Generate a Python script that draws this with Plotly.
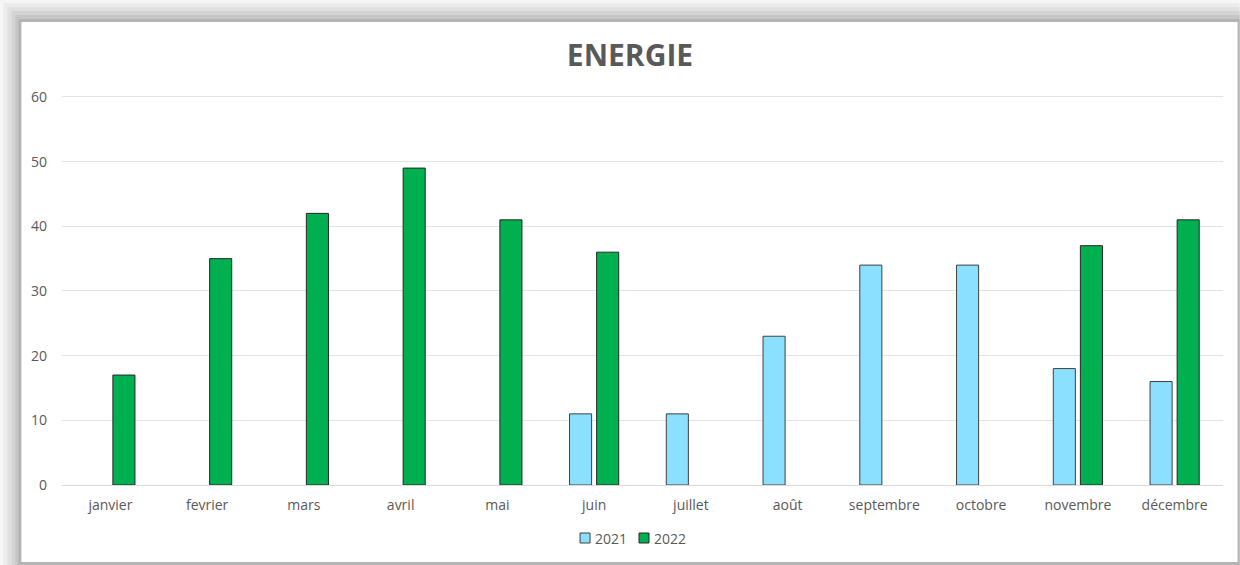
import plotly.graph_objects as go

months = ["janvier", "fevrier", "mars", "avril", "mai", "juin", "juillet",
          "août", "septembre", "octobre", "novembre", "décembre"]
values_2021 = [None, None, None, None, None, 11, 11, 23, 34, 34, 18, 16]
values_2022 = [17, 35, 42, 49, 41, 36, None, None, None, None, 37, 41]
y_ticks = [0, 10, 20, 30, 40, 50, 60]
series_names = ["2021", "2022"]
series_colors = ["#8BDFFF", "#00B050"]
series_edges = ["#404040", "#262626"]

W, H = 1240, 565
L, R, T, B = 61.6, 16.6, 95.1, 80
PW, PH = W - L - R, H - T - B


def px_x(p):
    return (p - L) / PW


def px_y(p):
    return (H - B - p) / PH


fig = go.Figure()
for name, vals, col, edge in zip(series_names, [values_2021, values_2022],
                                 series_colors, series_edges):
    fig.add_trace(go.Bar(x=months, y=vals, name=name, showlegend=False,
                         marker=dict(color=col, line=dict(color=edge, width=1))))

shapes = []
shadow = [(0, 0, "#f6f6f6"), (3, 3, "#ececec"), (7, 7, "#e0e0e0"),
          (11, 11, "#d4d4d4"), (15, 15, "#c6c6c6"), (18, 19, "#b4b4b4")]
for (sx, sy, c) in shadow:
    shapes.append(dict(type="rect", xref="paper", yref="paper", layer="below",
                       x0=px_x(sx), x1=px_x(W), y0=px_y(sy), y1=px_y(H),
                       fillcolor=c, line=dict(width=0)))
shapes.append(dict(type="rect", xref="paper", yref="paper", layer="below",
                   x0=px_x(21), x1=px_x(1238), y0=px_y(22), y1=px_y(562),
                   fillcolor="white", line=dict(width=0)))

# custom compact legend (Excel style)
annotations = []
legend_x = [580, 639]
for lx, name, col, edge in zip(legend_x, series_names, series_colors, series_edges):
    shapes.append(dict(type="rect", xref="paper", yref="paper",
                       x0=px_x(lx), x1=px_x(lx + 10), y0=px_y(533), y1=px_y(543),
                       fillcolor=col, line=dict(color=edge, width=1)))
    annotations.append(dict(text=name, xref="paper", yref="paper",
                            x=px_x(lx + 13), y=px_y(538), xanchor="left",
                            yanchor="middle", showarrow=False,
                            font=dict(size=14, color="#595959")))

fig.update_layout(
    width=W, height=H,
    margin=dict(l=L, r=R, t=T, b=B),
    paper_bgcolor="#f6f6f6",
    plot_bgcolor="rgba(0,0,0,0)",
    barmode="group",
    bargap=0.44,
    bargroupgap=0.185,
    font=dict(family="Open Sans", color="#595959", size=14),
    title=dict(text="<b>ENERGIE</b>", x=630 / W, xref="container", xanchor="center",
               y=1 - 55 / H, yanchor="middle", yref="container",
               font=dict(size=30, color="#595959", family="Open Sans")),
    showlegend=False,
    shapes=shapes,
    annotations=annotations,
    xaxis=dict(showgrid=False, showline=True, linecolor="#d9d9d9", linewidth=1,
               ticks="", ticklabelstandoff=7,
               tickfont=dict(size=14, color="#595959")),
    yaxis=dict(range=[0, 60.3], tickvals=y_ticks, showgrid=True,
               gridcolor="#e3e3e3", gridwidth=1, zeroline=False,
               showline=False, ticks="", ticklabelstandoff=14,
               tickfont=dict(size=14, color="#595959")),
)

fig.write_html("out.html", config={"displayModeBar": False},
               post_script="document.body.style.margin='0px';")
